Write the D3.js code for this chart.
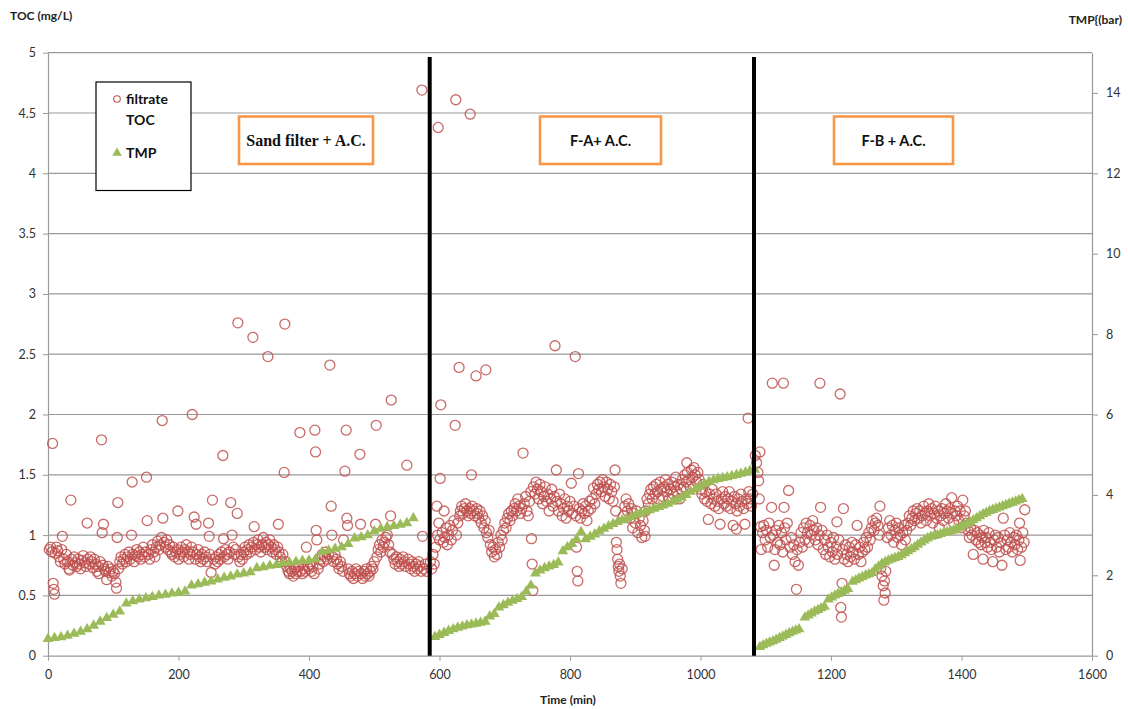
<!DOCTYPE html>
<html>
<head>
<meta charset="utf-8">
<script src="https://cdn.jsdelivr.net/npm/d3@7"></script>
<style>
  body { margin: 0; background: #fff; }
  svg text { font-family: Lato, "Open Sans", sans-serif; }
</style>
</head>
<body>
<svg id="chart" width="1128" height="709"></svg>
<script>
// filtrate TOC (mg/L) per phase, [time (min), value]
const tocSand = [[2,0.88],[4,0.9],[6,0.86],[7,1.76],[8,0.6],[9,0.55],[10,0.51],[11,0.85],[13,0.9],[15,0.87],[17,0.82],[19,0.78],[21,0.88],[22,0.99],[24,0.8],[26,0.76],[28,0.84],[30,0.78],[32,0.72],[33,0.71],[35,1.29],[36,0.8],[38,0.75],[40,0.82],[42,0.77],[44,0.74],[46,0.8],[48,0.76],[50,0.72],[52,0.79],[54,0.83],[56,0.77],[58,0.74],[60,1.1],[61,0.8],[63,0.76],[65,0.82],[67,0.78],[69,0.73],[71,0.8],[73,0.76],[75,0.7],[77,0.74],[78,0.68],[80,0.78],[82,1.79],[83,1.02],[84,0.75],[85,1.09],[86,0.72],[88,0.7],[90,0.63],[92,0.74],[94,0.69],[96,0.72],[98,0.66],[100,0.7],[102,0.68],[104,0.61],[105,0.56],[106,0.98],[107,1.27],[108,0.72],[110,0.78],[112,0.82],[114,0.76],[116,0.8],[118,0.84],[120,0.78],[122,0.82],[124,0.86],[126,0.8],[128,1.0],[129,1.44],[130,0.84],[132,0.78],[134,0.83],[136,0.88],[138,0.82],[140,0.86],[142,0.8],[144,0.84],[146,0.9],[148,0.82],[150,0.86],[151,1.48],[152,1.12],[154,0.84],[156,0.8],[158,0.88],[160,0.92],[162,0.86],[164,0.82],[166,0.9],[168,0.95],[170,0.88],[172,0.92],[174,0.98],[175,1.95],[176,1.14],[178,0.94],[180,0.9],[182,0.96],[184,0.88],[186,0.92],[188,0.86],[190,0.84],[192,0.9],[194,0.82],[196,0.86],[198,0.88],[199,1.2],[200,0.8],[202,0.84],[204,0.9],[206,0.86],[208,0.82],[210,0.88],[212,0.92],[214,0.86],[216,0.8],[218,0.84],[220,0.9],[221,2.0],[222,0.86],[224,1.15],[226,0.8],[227,1.09],[228,0.84],[230,0.88],[232,0.82],[234,0.78],[236,0.84],[238,0.8],[240,0.86],[242,0.82],[244,0.78],[246,1.1],[247,0.99],[248,0.84],[250,0.69],[252,1.29],[254,0.8],[256,0.76],[258,0.82],[260,0.78],[262,0.84],[264,0.8],[266,0.86],[268,1.66],[269,0.97],[270,0.82],[272,0.88],[274,0.84],[276,0.8],[278,0.86],[280,1.27],[282,1.0],[284,0.9],[286,0.84],[288,0.88],[290,1.18],[291,2.76],[292,0.82],[294,0.78],[296,0.84],[298,0.8],[300,0.86],[302,0.9],[304,0.84],[306,0.88],[308,0.92],[310,0.86],[312,0.9],[314,2.64],[315,0.94],[316,1.07],[318,0.88],[320,0.92],[322,0.96],[324,0.9],[326,0.86],[328,0.92],[330,0.98],[332,0.9],[334,0.94],[336,0.88],[337,2.48],[338,0.92],[340,0.96],[342,0.9],[344,0.86],[346,0.92],[348,0.88],[350,0.84],[352,0.9],[353,1.09],[354,0.86],[356,0.82],[358,0.78],[360,0.84],[362,1.52],[363,2.75],[364,0.78],[366,0.74],[368,0.7],[370,0.68],[372,0.72],[374,0.7],[376,0.66],[378,0.72],[380,0.68],[382,0.7],[384,0.74],[386,1.85],[387,0.7],[390,0.68],[392,0.72],[394,0.7],[396,0.9],[398,0.74],[400,0.72],[402,0.76],[404,0.7],[406,0.74],[408,0.68],[409,1.87],[410,1.69],[411,1.04],[412,0.96],[414,0.72],[416,0.76],[418,0.8],[420,0.84],[422,0.78],[424,0.82],[426,0.86],[428,0.8],[430,0.84],[432,2.41],[434,1.24],[435,1.0],[436,0.82],[438,0.78],[440,0.84],[442,0.8],[444,0.76],[446,0.72],[448,0.78],[450,0.74],[452,0.7],[453,0.96],[455,1.53],[457,1.87],[458,1.14],[459,1.08],[460,0.72],[462,0.68],[464,0.66],[466,0.7],[468,0.64],[470,0.68],[472,0.72],[474,0.66],[476,0.7],[478,1.67],[479,1.09],[480,0.68],[482,0.64],[484,0.7],[486,0.66],[488,0.72],[490,0.68],[492,0.66],[494,0.7],[496,0.74],[498,0.72],[500,0.78],[502,1.09],[503,1.91],[504,0.82],[506,0.88],[508,0.92],[510,0.86],[512,0.96],[514,0.9],[516,0.94],[518,0.98],[520,1.0],[522,0.92],[524,0.86],[525,1.16],[526,2.12],[528,0.84],[530,0.8],[532,0.76],[534,0.82],[536,0.78],[538,0.74],[540,0.8],[542,0.76],[544,0.82],[546,0.78],[548,0.74],[550,1.58],[552,0.8],[554,0.76],[556,0.72],[558,0.78],[560,0.74],[562,0.7],[564,0.76],[566,0.72],[568,0.78],[570,0.74],[572,0.7],[573,4.69],[574,0.99],[576,0.72],[578,0.76],[580,0.7]];

const tocFA = [[586,0.78],[588,0.72],[590,0.84],[592,0.76],[594,0.9],[596,1.24],[597,1.0],[598,4.38],[599,1.1],[600,0.96],[601,1.47],[602,2.08],[604,1.02],[606,0.94],[607,1.2],[608,0.98],[610,1.06],[612,0.92],[614,1.0],[616,1.08],[618,0.96],[620,1.04],[622,1.12],[624,1.91],[625,4.61],[626,1.0],[628,1.1],[630,2.39],[631,1.16],[632,1.2],[634,1.24],[636,1.18],[638,1.22],[640,1.26],[642,1.2],[644,1.16],[646,1.22],[647,4.49],[648,1.18],[649,1.5],[650,1.24],[652,1.2],[654,1.16],[656,2.32],[657,1.22],[658,1.18],[660,1.14],[662,1.2],[664,1.1],[666,1.16],[668,1.06],[670,1.12],[671,2.37],[672,1.02],[674,0.98],[676,1.04],[678,0.92],[680,0.86],[682,0.9],[684,0.82],[686,0.88],[688,0.84],[690,0.94],[692,0.9],[694,1.0],[696,0.96],[698,1.04],[700,1.1],[702,1.06],[704,1.14],[706,1.18],[708,1.12],[710,1.2],[712,1.16],[714,1.22],[716,1.26],[718,1.2],[720,1.3],[722,1.24],[724,1.18],[726,1.22],[728,1.68],[730,1.26],[732,1.32],[734,1.2],[736,1.16],[738,1.28],[740,1.36],[741,0.97],[742,0.76],[743,0.54],[744,1.4],[746,1.34],[748,1.44],[750,1.38],[752,1.3],[754,1.42],[756,1.36],[758,1.26],[760,1.32],[762,1.4],[764,1.28],[766,1.34],[768,1.2],[770,1.3],[772,1.38],[774,1.24],[776,1.32],[777,2.57],[779,1.54],[780,1.28],[782,1.2],[784,1.34],[786,1.26],[788,1.16],[790,1.22],[792,1.3],[794,1.14],[796,1.24],[798,1.2],[800,1.28],[802,1.43],[804,1.18],[806,1.24],[808,2.48],[809,1.16],[810,0.9],[811,0.7],[812,0.62],[813,1.51],[814,1.22],[816,1.14],[818,1.2],[820,1.26],[822,1.18],[824,1.24],[826,1.12],[828,1.2],[830,1.28],[832,1.22],[834,1.3],[836,1.39],[838,1.26],[840,1.34],[842,1.42],[844,1.38],[846,1.44],[848,1.36],[850,1.46],[852,1.4],[854,1.32],[856,1.44],[858,1.38],[860,1.3],[862,1.42],[864,1.36],[866,1.28],[868,1.4],[869,1.54],[870,1.2],[871,0.94],[872,0.88],[873,0.8],[874,0.74],[875,0.7],[876,0.76],[877,0.66],[878,0.6],[880,0.72],[882,1.16],[884,1.24],[886,1.3],[888,1.2],[890,1.26],[892,1.14],[894,1.22],[896,1.06],[898,1.18],[900,1.1],[902,1.2],[904,1.02],[906,1.14],[908,1.08],[910,0.98],[912,1.12],[914,1.04],[915,0.99],[916,1.2],[918,1.3],[920,1.26],[922,1.34],[924,1.38],[926,1.3],[928,1.4],[930,1.34],[932,1.42],[934,1.36],[936,1.3],[938,1.44],[940,1.38],[942,1.32],[944,1.4],[946,1.46],[948,1.36],[950,1.42],[952,1.3],[954,1.38],[956,1.44],[958,1.34],[960,1.4],[962,1.48],[964,1.36],[966,1.42],[968,1.3],[970,1.38],[972,1.46],[974,1.4],[976,1.5],[978,1.44],[979,1.6],[980,1.52],[982,1.46],[984,1.4],[986,1.54],[988,1.48],[990,1.56],[992,1.5],[994,1.44],[996,1.52],[998,1.46],[1000,1.38],[1002,1.34],[1004,1.42],[1006,1.3],[1008,1.36],[1010,1.28],[1012,1.13],[1014,1.34],[1016,1.26],[1018,1.38],[1020,1.3],[1022,1.24],[1024,1.34],[1026,1.28],[1028,1.22],[1030,1.09],[1032,1.3],[1034,1.36],[1036,1.26],[1038,1.32],[1040,1.24],[1042,1.3],[1044,1.36],[1046,1.22],[1048,1.28],[1050,1.08],[1052,1.32],[1054,1.26],[1055,1.05],[1056,1.2],[1058,1.3],[1060,1.24],[1062,1.34],[1064,1.28],[1066,1.22],[1068,1.09],[1070,1.3],[1072,1.26],[1073,1.97],[1074,1.36],[1076,1.3],[1078,1.24],[1080,1.34]];

const tocFB = [[1084,1.66],[1086,1.6],[1088,1.52],[1089,1.45],[1090,1.3],[1091,1.69],[1092,1.07],[1093,0.88],[1095,1.02],[1097,1.08],[1099,0.96],[1101,1.04],[1103,0.9],[1105,1.1],[1107,0.98],[1109,1.23],[1110,2.26],[1111,1.0],[1113,0.75],[1114,0.88],[1116,1.04],[1118,0.94],[1120,1.08],[1122,0.92],[1124,1.02],[1126,0.86],[1127,2.26],[1128,1.23],[1129,1.06],[1131,0.96],[1133,1.1],[1135,1.37],[1137,0.9],[1139,0.98],[1141,0.84],[1143,0.92],[1145,0.78],[1147,0.55],[1148,0.88],[1150,0.75],[1152,0.94],[1154,1.02],[1156,0.9],[1158,1.06],[1160,0.96],[1162,1.1],[1164,1.02],[1166,0.94],[1168,1.08],[1170,1.0],[1172,1.12],[1174,1.04],[1176,0.96],[1178,1.06],[1180,0.92],[1182,1.0],[1183,2.26],[1184,1.23],[1186,1.04],[1188,0.88],[1190,0.96],[1192,0.84],[1194,1.0],[1196,0.9],[1198,0.82],[1200,0.94],[1202,0.86],[1204,0.98],[1206,0.8],[1208,0.9],[1209,1.11],[1210,0.84],[1212,0.96],[1214,2.17],[1215,0.4],[1216,0.32],[1217,0.6],[1218,0.88],[1219,1.22],[1220,0.8],[1222,0.92],[1224,0.84],[1226,0.78],[1228,0.9],[1230,0.82],[1232,0.94],[1234,0.86],[1236,0.8],[1238,0.92],[1240,1.08],[1242,0.84],[1244,0.9],[1246,0.78],[1248,0.86],[1250,0.94],[1252,0.88],[1254,0.98],[1256,0.9],[1258,1.02],[1260,0.96],[1262,1.06],[1264,1.12],[1266,1.04],[1268,1.1],[1270,1.14],[1272,1.08],[1274,1.0],[1275,1.24],[1276,0.72],[1278,0.66],[1280,0.58],[1281,0.46],[1282,0.62],[1283,0.52],[1284,0.7],[1286,0.98],[1288,1.06],[1290,1.12],[1292,1.0],[1294,1.08],[1296,0.94],[1298,1.04],[1300,1.1],[1302,0.98],[1304,1.06],[1306,1.0],[1308,0.92],[1310,1.02],[1312,1.08],[1314,0.96],[1316,1.04],[1318,1.1],[1320,1.16],[1322,1.08],[1324,1.14],[1326,1.2],[1328,1.12],[1330,1.18],[1332,1.22],[1334,1.14],[1336,1.2],[1338,1.1],[1340,1.16],[1342,1.24],[1344,1.18],[1346,1.12],[1348,1.2],[1350,1.26],[1352,1.16],[1354,1.22],[1356,1.1],[1358,1.18],[1360,1.24],[1362,1.14],[1364,1.2],[1366,1.06],[1368,1.16],[1370,1.22],[1372,1.12],[1374,1.18],[1376,1.26],[1378,1.2],[1380,1.14],[1382,1.22],[1385,1.31],[1386,1.18],[1388,1.1],[1390,1.2],[1392,1.16],[1394,1.24],[1396,1.12],[1398,1.2],[1400,1.06],[1402,1.29],[1404,1.16],[1406,1.2],[1408,1.1],[1410,1.04],[1412,0.98],[1414,1.06],[1416,1.0],[1418,0.84],[1420,1.04],[1422,0.96],[1424,1.02],[1426,0.94],[1428,1.0],[1430,0.92],[1432,0.98],[1433,0.8],[1434,1.04],[1436,0.94],[1438,0.98],[1440,0.9],[1442,1.02],[1444,0.94],[1446,0.88],[1448,0.78],[1450,0.96],[1452,1.0],[1454,0.9],[1456,0.98],[1458,0.86],[1460,0.94],[1462,0.75],[1464,1.14],[1466,1.0],[1468,0.88],[1470,0.96],[1472,0.9],[1474,1.02],[1476,0.94],[1478,0.86],[1480,0.98],[1482,0.92],[1484,1.0],[1486,0.88],[1488,0.96],[1489,1.1],[1490,0.79],[1492,0.9],[1494,1.02],[1496,0.94],[1497,1.21]];

// TMP (bar) per phase, [time (min), value]
const tmpSand = [[0,0.42],[10,0.44],[20,0.46],[30,0.5],[40,0.55],[50,0.6],[60,0.66],[70,0.75],[80,0.85],[90,0.94],[100,1.02],[110,1.1],[120,1.3],[130,1.36],[140,1.4],[150,1.43],[160,1.46],[170,1.5],[180,1.52],[190,1.55],[200,1.57],[210,1.6],[220,1.75],[230,1.78],[240,1.82],[250,1.85],[260,1.9],[270,1.94],[280,1.97],[290,2.02],[300,2.05],[310,2.08],[320,2.18],[330,2.2],[340,2.24],[350,2.26],[360,2.3],[370,2.32],[380,2.34],[390,2.36],[400,2.37],[410,2.4],[420,2.58],[430,2.62],[440,2.66],[450,2.7],[460,2.78],[470,2.92],[480,2.95],[490,3.0],[500,3.1],[510,3.16],[520,3.2],[530,3.23],[540,3.26],[550,3.3],[560,3.42]];

const tmpFA = [[593,0.47],[600,0.52],[607,0.57],[614,0.62],[621,0.66],[628,0.7],[635,0.73],[642,0.76],[649,0.78],[656,0.8],[663,0.82],[670,0.85],[677,0.98],[684,1.04],[691,1.2],[698,1.26],[705,1.32],[712,1.37],[719,1.41],[726,1.46],[733,1.6],[740,1.75],[747,2.05],[754,2.12],[761,2.18],[768,2.22],[775,2.26],[782,2.32],[789,2.6],[796,2.7],[803,2.78],[810,2.9],[817,3.08],[824,2.9],[831,2.96],[838,3.02],[845,3.1],[852,3.16],[859,3.22],[866,3.28],[873,3.33],[880,3.37],[887,3.41],[894,3.45],[901,3.5],[908,3.54],[915,3.58],[922,3.62],[929,3.66],[936,3.7],[943,3.74],[950,3.78],[957,3.83],[964,3.88],[971,3.94],[978,4.0],[985,4.08],[992,4.14],[999,4.2],[1006,4.27],[1013,4.33],[1020,4.37],[1027,4.4],[1034,4.42],[1041,4.44],[1048,4.47],[1055,4.5],[1062,4.53],[1069,4.56],[1076,4.6],[1083,4.63]];

const tmpFB = [[1091,0.22],[1096,0.26],[1101,0.3],[1106,0.33],[1111,0.36],[1116,0.4],[1121,0.44],[1126,0.48],[1131,0.52],[1136,0.56],[1141,0.6],[1146,0.63],[1151,0.66],[1160,0.95],[1165,1.0],[1170,1.05],[1175,1.1],[1180,1.14],[1185,1.18],[1190,1.22],[1196,1.4],[1201,1.45],[1206,1.5],[1211,1.54],[1216,1.58],[1221,1.62],[1226,1.66],[1233,1.84],[1238,1.88],[1243,1.92],[1248,1.96],[1253,2.0],[1258,2.03],[1263,2.06],[1268,2.15],[1273,2.22],[1278,2.29],[1283,2.33],[1288,2.37],[1293,2.4],[1298,2.43],[1303,2.46],[1308,2.5],[1313,2.55],[1318,2.6],[1323,2.65],[1328,2.7],[1333,2.76],[1338,2.82],[1343,2.87],[1348,2.92],[1353,2.96],[1358,2.98],[1363,3.0],[1368,3.03],[1373,3.06],[1378,3.08],[1383,3.1],[1388,3.12],[1393,3.16],[1398,3.2],[1403,3.24],[1408,3.28],[1413,3.32],[1418,3.37],[1423,3.42],[1428,3.47],[1433,3.52],[1438,3.56],[1443,3.6],[1448,3.63],[1453,3.66],[1458,3.69],[1463,3.72],[1468,3.75],[1473,3.78],[1478,3.81],[1483,3.84],[1488,3.87],[1493,3.9]];

const xTicks = [0, 200, 400, 600, 800, 1000, 1200, 1400, 1600];
const tocTicks = [0, 0.5, 1, 1.5, 2, 2.5, 3, 3.5, 4, 4.5, 5];
const tmpTicks = [0, 2, 4, 6, 8, 10, 12, 14];
const phaseBreaks = [585, 1082];
const phaseLabels = ["Sand filter + A.C.", "F-A+ A.C.", "F-B + A.C."];

const tocColor = '#C0504D';
const tmpColor = '#9BBB59';
const gridColor = '#999999';

let svg = d3.select('#chart');

let x = d3.scaleLinear().domain([0, 1600]).range([48, 1092]);
let yL = d3.scaleLinear().domain([0, 5]).range([655.7, 52.7]);
let yR = d3.scaleLinear().domain([0, 15]).range([655.7, 52.7]);

// gridlines
svg.append('g')
  .selectAll('line')
  .data(tocTicks.slice(1))
  .join('line')
  .attr('x1', x(0)).attr('x2', x(1600))
  .attr('y1', d => yL(d)).attr('y2', d => yL(d))
  .attr('stroke', gridColor)
  .attr('stroke-width', 1.2);

// axes
let styleAxis = function(g) {
  g.select('.domain').attr('stroke', gridColor).attr('stroke-width', 1.2);
  g.selectAll('.tick line').attr('stroke', gridColor);
  g.selectAll('.tick text')
    .attr('fill', '#333')
    .style('font-size', '12.5px')
    .style('font-family', 'Lato, "Open Sans", sans-serif');
};

svg.append('g')
  .attr('transform', 'translate(' + x(0) + ',0)')
  .call(d3.axisLeft(yL).tickValues(tocTicks).tickFormat(d3.format('')).tickSize(5).tickSizeOuter(0).tickPadding(7))
  .call(styleAxis);

svg.append('g')
  .attr('transform', 'translate(' + x(1600) + ',0)')
  .call(d3.axisRight(yR).tickValues(tmpTicks).tickFormat(d3.format('')).tickSize(6).tickSizeOuter(0).tickPadding(8))
  .call(styleAxis);

svg.append('g')
  .attr('transform', 'translate(0,' + yL(0) + ')')
  .call(d3.axisBottom(x).tickValues(xTicks).tickFormat(d3.format('')).tickSize(5).tickSizeOuter(0).tickPadding(9))
  .call(styleAxis);

// TOC circles
let tocAll = tocSand.concat(tocFA, tocFB);
svg.append('g')
  .selectAll('circle')
  .data(tocAll)
  .join('circle')
  .attr('cx', d => x(d[0]))
  .attr('cy', d => yL(d[1]))
  .attr('r', 5)
  .attr('fill', 'none')
  .attr('stroke', tocColor)
  .attr('stroke-opacity', 0.85)
  .attr('stroke-width', 1.3);

// TMP triangles
let tmpAll = tmpSand.concat(tmpFA, tmpFB);
let tri = d3.symbol(d3.symbolTriangle, 50);
svg.append('g')
  .selectAll('path')
  .data(tmpAll)
  .join('path')
  .attr('transform', d => 'translate(' + x(d[0]) + ',' + yR(d[1]) + ')')
  .attr('d', tri)
  .attr('fill', tmpColor);

// phase separators
svg.append('g')
  .selectAll('line')
  .data(phaseBreaks)
  .join('line')
  .attr('x1', d => x(d)).attr('x2', d => x(d))
  .attr('y1', 57).attr('y2', yL(0))
  .attr('stroke', '#000')
  .attr('stroke-width', 4);

// phase label boxes
let boxes = [
  {x: 239, w: 134, font: '"Liberation Serif", "DejaVu Serif", serif', size: 16},
  {x: 540, w: 121, font: 'Lato, "Open Sans", sans-serif', size: 14.5},
  {x: 834, w: 119, font: 'Lato, "Open Sans", sans-serif', size: 14.5}
];
let bg = svg.append('g');
boxes.forEach(function(b, i) {
  bg.append('rect')
    .attr('x', b.x).attr('y', 116.5)
    .attr('width', b.w).attr('height', 47.5)
    .attr('fill', '#fff')
    .attr('stroke', '#F79646')
    .attr('stroke-width', 2.6);
  bg.append('text')
    .attr('x', b.x + b.w / 2).attr('y', 146)
    .attr('text-anchor', 'middle')
    .style('font-family', b.font)
    .style('font-size', b.size + 'px')
    .style('font-weight', 'bold')
    .attr('fill', '#111')
    .text(phaseLabels[i]);
});

// legend
let lg = svg.append('g');
lg.append('rect')
  .attr('x', 96).attr('y', 82)
  .attr('width', 95).attr('height', 108.5)
  .attr('fill', '#fff')
  .attr('stroke', '#000')
  .attr('stroke-width', 1.2);
lg.append('circle')
  .attr('cx', 117).attr('cy', 99).attr('r', 3.3)
  .attr('fill', 'none').attr('stroke', tocColor).attr('stroke-width', 1.1);
lg.append('path')
  .attr('transform', 'translate(117,153)')
  .attr('d', d3.symbol(d3.symbolTriangle, 40))
  .attr('fill', tmpColor);
[['filtrate', 104], ['TOC', 125], ['TMP', 158]].forEach(function(t) {
  lg.append('text')
    .attr('x', 126).attr('y', t[1])
    .style('font-size', '14px')
    .style('font-weight', 'bold')
    .attr('fill', '#111')
    .text(t[0]);
});

// axis titles
svg.append('text')
  .attr('x', 10).attr('y', 20)
  .style('font-size', '12px').style('font-weight', 'bold').attr('fill', '#222')
  .text('TOC (mg/L)');
svg.append('text')
  .attr('x', 1122).attr('y', 24)
  .attr('text-anchor', 'end')
  .style('font-size', '12px').style('font-weight', 'bold').attr('fill', '#222')
  .text('TMP{(bar)');
svg.append('text')
  .attr('x', 568).attr('y', 704)
  .attr('text-anchor', 'middle')
  .style('font-size', '12px').style('font-weight', 'bold').attr('fill', '#222')
  .text('Time (min)');
</script>
</body>
</html>
